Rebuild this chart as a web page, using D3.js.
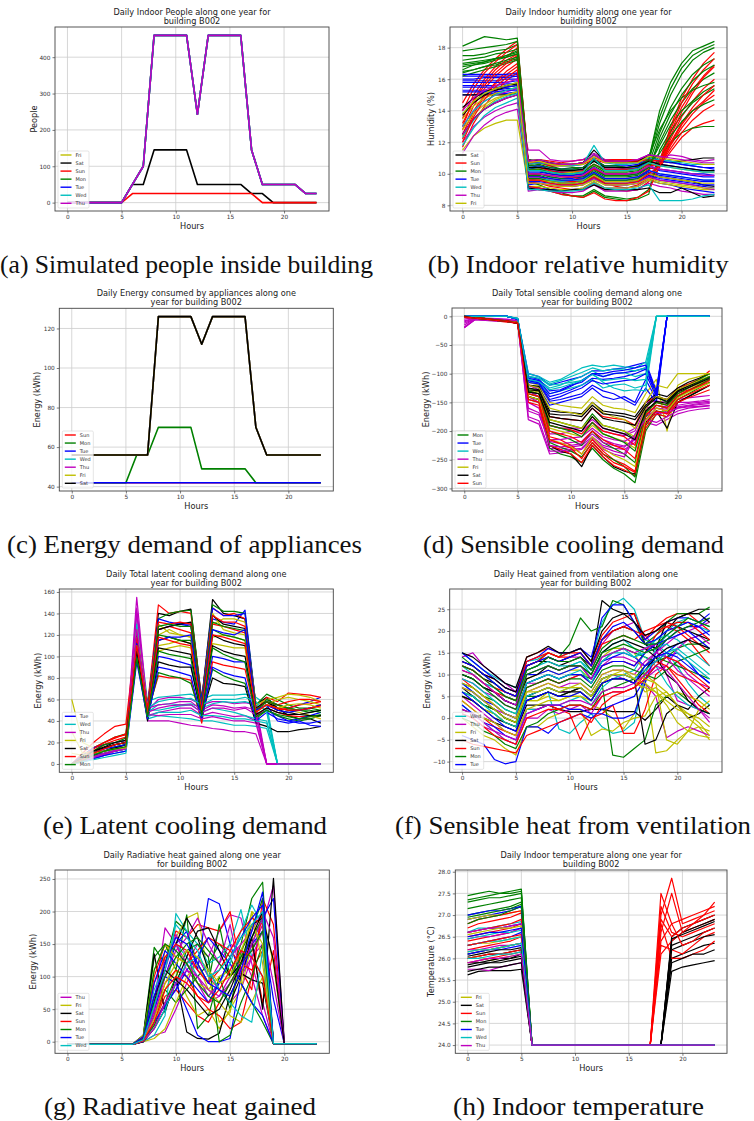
<!DOCTYPE html>
<html>
<head>
<meta charset="utf-8">
<script src="https://cdn.jsdelivr.net/npm/d3@7"></script>
<style>
  body { margin: 0; background: #fff; }
  svg { display: block; }
</style>
</head>
<body>
<svg id="fig" width="754" height="1121"></svg>
<script>
// ---------- shared axis values ----------
const hourTicks = [0, 5, 10, 15, 20];
const peopleTicks = [0, 100, 200, 300, 400];
const humidityTicks = [8, 10, 12, 14, 16, 18];
const applianceTicks = [40, 60, 80, 100, 120];
const sensibleTicks = [-300, -250, -200, -150, -100, -50, 0];
const latentTicks = [0, 20, 40, 60, 80, 100, 120, 140, 160];
const ventilationTicks = [-10, -5, 0, 5, 10, 15, 20, 25];
const radiativeTicks = [0, 50, 100, 150, 200, 250];
const temperatureTicks = [24.0, 24.5, 25.0, 25.5, 26.0, 26.5, 27.0, 27.5, 28.0];

// ---------- (a) people inside the building ----------
const peopleDays = ["Fri", "Sat", "Sun", "Mon", "Tue", "Wed", "Thu"];
const peopleWeekday = [0,0,0,0,0,0, 50,100,460,460,460,460,243,460,460,460,460,145, 50,50,50,50,25,25];
const peopleSaturday = [0,0,0,0,0,0, 50,50,145,145,145,145,50,50,50,50,50,25, 25,0,0,0,0,0];
const peopleSunday = [0,0,0,0,0,0, 25,25,25,25,25,25,25,25,25,25,25,25, 0,0,0,0,0,0];
const peopleLines = [
  ["Fri", peopleWeekday], ["Sat", peopleSaturday], ["Sun", peopleSunday],
  ["Mon", peopleWeekday], ["Tue", peopleWeekday], ["Wed", peopleWeekday], ["Thu", peopleWeekday]
];

// ---------- (b) indoor humidity ----------
const humidityDays = ["Sat", "Sun", "Mon", "Tue", "Wed", "Thu", "Fri"];
const humidityLines = [
  ["Mon",[18.1,18.4,18.7,18.6,18.5,18.6, 10.6,10.7,10.5,10.3,10.4,10.4,10.9,10.5,10.5,10.4,10.5,10.9, 14.0,15.8,17.0,17.8,18.1,18.4]],
  ["Mon",[17.5,17.5,17.6,17.8,17.9,18.2, 10.4,10.5,10.3,10.2,10.2,10.3,10.8,10.4,10.4,10.3,10.4,10.8, 13.2,15.0,16.3,17.2,17.7,18.0]],
  ["Mon",[17.2,17.3,17.4,17.6,17.7,17.9, 10.2,10.2,10.0,9.9,9.9,10.0,10.5,10.1,10.1,10.1,10.2,10.6, 12.6,14.2,15.4,16.3,16.9,17.3]],
  ["Mon",[16.8,16.9,17.0,17.2,17.4,17.6, 9.9,9.9,9.7,9.6,9.6,9.7,10.2,9.8,9.8,9.8,9.9,10.4, 12.0,13.4,14.5,15.4,16.0,16.4]],
  ["Mon",[16.4,16.6,16.8,16.9,17.1,17.3, 9.5,9.3,9.0,8.8,8.6,8.5,8.9,8.5,8.4,8.3,8.4,8.7, 11.5,12.7,13.7,14.5,15.0,15.4]],
  ["Mon",[16.2,16.4,16.6,16.8,17.0,17.2, 9.2,9.1,8.9,8.7,8.6,8.6,9.0,8.6,8.5,8.4,8.5,9.0, 11.0,12.0,12.6,12.9,13.0,13.0]],
  ["Mon",[17.0,17.1,17.2,17.3,17.5,17.7, 10.8,10.9,10.7,10.6,10.6,10.7,11.2,10.8,10.7,10.7,10.8,11.1, 12.8,14.0,14.8,15.3,15.6,15.8]],
  ["Mon",[16.6,16.9,17.1,17.3,17.5,17.8, 10.0,10.0,9.8,9.7,9.8,9.8,10.3,9.9,9.9,9.9,10.0,10.5, 11.8,13.1,14.0,14.6,15.2,15.6]],
  ["Mon",[17.8,17.9,18.0,18.1,18.2,18.4, 10.5,10.6,10.4,10.3,10.3,10.4,10.9,10.5,10.5,10.4,10.5,10.9, 13.6,15.4,16.7,17.5,17.9,18.2]],
  ["Mon",[16.9,17.0,17.1,17.3,17.4,17.6, 9.7,9.7,9.5,9.4,9.4,9.5,10.0,9.6,9.6,9.6,9.7,10.2, 12.3,13.8,15.0,15.9,16.5,16.9]],
  ["Mon",[16.5,16.6,16.8,17.0,17.2,17.4, 10.3,10.3,10.1,10.0,10.0,10.1,10.6,10.2,10.2,10.2,10.3,10.7, 11.3,12.4,13.3,14.0,14.4,14.7]],
  ["Sun",[14.5,15.7,16.6,17.3,17.9,18.4, 10.8,10.9,10.8,10.7,10.8,10.9,11.0,10.9,10.9,10.9,10.9,10.9, 10.8,13.0,14.8,16.0,17.0,17.7]],
  ["Sun",[13.5,15.0,16.0,16.8,17.4,18.0, 10.6,10.7,10.5,10.5,10.5,10.6,10.9,10.7,10.7,10.7,10.7,10.8, 10.7,12.6,14.2,15.3,16.2,16.9]],
  ["Sun",[12.8,14.3,15.4,16.2,16.8,17.3, 10.2,10.3,10.1,10.1,10.1,10.2,10.6,10.3,10.3,10.3,10.3,10.6, 10.6,12.2,13.6,14.6,15.4,16.0]],
  ["Sun",[12.2,13.8,14.9,15.7,16.3,16.8, 9.8,9.8,9.6,9.5,9.5,9.6,10.1,9.7,9.7,9.7,9.8,10.3, 10.5,11.8,12.9,13.8,14.5,15.0]],
  ["Sun",[11.7,13.2,14.3,15.2,15.9,16.4, 9.5,9.4,9.2,9.1,9.0,9.0,9.4,9.0,9.0,8.9,9.0,9.5, 10.4,11.4,12.3,12.9,13.2,13.4]],
  ["Sun",[13.0,14.7,15.8,16.6,17.2,17.6, 10.4,10.4,10.2,10.0,9.8,9.6,9.8,9.4,9.2,9.1,9.3,9.7, 10.6,12.4,13.9,15.1,16.1,16.8]],
  ["Sun",[12.5,14.0,15.0,15.8,16.5,17.0, 9.2,9.1,8.9,8.7,8.6,8.5,8.8,8.4,8.3,8.3,8.5,8.9, 10.5,11.9,13.1,14.0,14.6,15.3]],
  ["Sun",[14.0,15.4,16.4,17.1,17.7,18.2, 10.7,10.8,10.6,10.6,10.6,10.7,11.0,10.8,10.8,10.8,10.8,10.9, 10.8,12.8,14.5,15.7,16.6,17.3]],
  ["Sun",[13.2,14.6,15.6,16.4,17.0,17.5, 10.0,10.0,9.9,9.8,9.8,9.9,10.3,10.0,10.0,10.0,10.1,10.5, 10.6,12.0,13.2,14.2,15.0,15.6]],
  ["Sun",[12.0,13.6,14.7,15.5,16.1,16.6, 9.6,9.6,9.4,9.3,9.3,9.4,9.8,9.4,9.4,9.4,9.5,10.0, 10.5,11.6,12.6,13.4,14.0,14.4]],
  ["Tue",[16.2,16.2,16.2,16.2,16.2,16.3, 10.3,10.4,10.2,10.1,10.1,10.2,10.6,10.3,10.3,10.3,10.4,10.8, 10.6,10.5,10.4,10.3,10.2,10.2]],
  ["Tue",[15.9,15.9,15.9,15.9,16.0,16.0, 9.9,10.0,9.8,9.7,9.7,9.8,10.3,9.9,9.9,9.9,10.0,10.4, 10.2,10.1,10.0,9.9,9.8,9.8]],
  ["Tue",[15.6,15.6,15.6,15.6,15.7,15.7, 9.6,9.7,9.6,9.5,9.5,9.6,10.0,9.6,9.6,9.6,9.7,10.1, 9.9,9.8,9.7,9.6,9.5,9.5]],
  ["Tue",[15.3,15.3,15.3,15.3,15.4,15.4, 9.3,9.4,9.3,9.2,9.2,9.3,9.7,9.3,9.3,9.3,9.4,9.8, 9.6,9.5,9.4,9.3,9.2,9.1]],
  ["Tue",[15.0,15.0,15.1,15.1,15.1,15.2, 10.7,10.7,10.6,10.6,10.6,10.7,11.2,10.8,10.7,10.7,10.7,11.0, 10.9,10.8,10.6,10.5,10.4,10.4]],
  ["Tue",[16.0,16.0,16.1,16.1,16.1,16.2, 9.1,9.1,9.0,9.0,9.0,9.1,9.5,9.1,9.1,9.1,9.2,9.6, 9.4,9.3,9.1,9.0,8.9,8.8]],
  ["Tue",[16.3,16.3,16.3,16.3,16.3,16.4, 10.5,10.5,10.4,10.3,10.3,10.4,10.9,10.5,10.5,10.5,10.6,10.9, 10.8,10.7,10.6,10.5,10.4,10.3]],
  ["Tue",[15.8,15.8,15.8,15.8,15.8,15.9, 10.1,10.1,10.0,9.9,9.9,10.0,10.4,10.0,10.0,10.0,10.1,10.5, 10.3,10.2,10.1,10.0,10.0,9.9]],
  ["Tue",[15.5,15.5,15.5,15.5,15.5,15.6, 9.5,9.5,9.4,9.3,9.3,9.4,9.8,9.4,9.4,9.4,9.5,9.9, 9.7,9.6,9.5,9.4,9.3,9.3]],
  ["Tue",[15.2,15.2,15.2,15.2,15.3,15.3, 9.8,9.8,9.7,9.6,9.6,9.7,10.1,9.7,9.7,9.7,9.8,10.2, 10.0,9.9,9.8,9.7,9.6,9.6]],
  ["Sat",[15.0,15.0,15.0,15.0,15.0,15.1, 10.9,10.8,10.7,10.6,10.6,10.7,11.5,10.8,10.8,10.8,10.8,11.2, 10.8,10.7,10.8,10.9,11.0,11.0]],
  ["Sat",[13.7,14.5,15.0,15.3,15.5,15.6, 9.6,9.6,9.5,9.4,9.4,9.5,9.9,9.5,9.5,9.5,9.6,10.0, 9.8,9.7,9.6,9.5,9.3,9.2]],
  ["Sat",[12.5,13.5,14.1,14.5,14.8,15.0, 9.1,9.0,9.0,8.9,9.0,9.0,9.3,9.0,9.0,9.0,9.0,9.1, 8.8,8.8,9.1,8.8,8.5,8.6]],
  ["Sat",[14.2,14.8,15.2,15.4,15.6,15.7, 10.4,10.4,10.3,10.2,10.2,10.3,10.8,10.4,10.4,10.4,10.5,10.8, 10.6,10.5,10.4,10.3,10.2,10.2]],
  ["Wed",[13.8,14.6,15.1,15.4,15.6,15.8, 10.6,10.7,10.6,10.5,10.5,10.6,11.8,10.7,10.6,10.6,10.7,11.0, 10.9,10.8,10.7,10.6,10.6,10.6]],
  ["Wed",[12.3,13.4,14.1,14.6,14.9,15.1, 9.7,9.7,9.6,9.5,9.6,9.6,10.1,9.7,9.7,9.7,9.8,10.2, 10.0,9.9,9.8,9.7,9.6,9.6]],
  ["Wed",[11.8,12.9,13.7,14.2,14.5,14.8, 9.0,9.0,8.9,8.9,8.9,9.0,9.4,9.1,9.0,9.0,9.1,9.3, 8.3,8.3,8.3,8.4,8.6,8.7]],
  ["Wed",[13.0,14.0,14.6,15.0,15.3,15.5, 10.2,10.2,10.1,10.0,10.0,10.1,11.0,10.2,10.2,10.2,10.3,10.7, 10.5,10.4,10.3,10.2,10.1,10.1]],
  ["Thu",[12.0,13.0,13.6,14.0,14.3,14.5, 11.5,11.5,10.9,10.8,10.8,10.9,11.3,10.9,10.8,10.8,10.9,11.2, 11.0,11.2,11.1,10.9,10.8,10.9]],
  ["Thu",[11.3,12.4,13.1,13.6,13.9,14.1, 9.4,9.4,9.3,9.2,9.2,9.3,9.7,9.3,9.3,9.3,9.4,9.8, 9.6,9.5,9.4,9.3,9.1,9.0]],
  ["Thu",[13.0,14.0,14.6,15.0,15.2,15.4, 8.9,9.0,8.9,8.8,8.8,8.9,9.3,8.9,8.9,8.9,9.0,9.4, 9.2,9.1,8.9,8.8,8.7,8.7]],
  ["Thu",[12.5,13.5,14.1,14.5,14.8,15.0, 10.0,10.0,9.9,9.8,9.8,9.9,10.4,10.0,10.0,10.0,10.1,10.5, 10.3,10.2,10.1,10.0,9.9,9.9]],
  ["Thu",[14.0,14.8,15.3,15.6,15.8,16.0, 10.8,10.9,10.7,10.6,10.6,10.7,11.2,10.8,10.8,10.8,10.9,11.2, 11.1,11.0,10.9,10.8,10.7,10.7]],
  ["Fri",[11.5,12.4,12.9,13.2,13.4,13.4, 9.2,9.2,9.1,9.0,9.0,9.1,9.5,9.1,9.1,9.1,9.2,9.6, 9.4,9.3,9.2,9.1,9.0,9.0]],
  ["Fri",[12.4,13.5,14.2,14.7,15.0,15.2, 10.2,10.3,10.1,10.0,10.1,10.1,10.6,10.2,10.2,10.2,10.3,10.7, 10.5,10.4,10.3,10.2,10.1,10.1]],
  ["Fri",[13.5,14.3,14.8,15.1,15.3,15.5, 10.7,10.8,10.6,10.5,10.6,10.6,11.1,10.7,10.7,10.7,10.7,11.1, 11.0,10.9,10.8,10.7,10.6,10.6]],
  ["Fri",[12.8,13.8,14.4,14.8,15.0,15.2, 9.6,9.6,9.5,9.4,9.4,9.5,9.9,9.5,9.5,9.5,9.6,10.0, 9.8,9.7,9.6,9.5,9.4,9.4]],
  ["Fri",[13.8,14.6,15.1,15.4,15.6,15.8, 9.4,9.4,9.3,9.2,9.2,9.3,9.6,9.3,9.3,9.3,9.4,9.7, 9.5,9.4,9.3,9.2,9.1,9.1]]
];

// ---------- (c) appliance energy ----------
const applianceDays = ["Sun", "Mon", "Tue", "Wed", "Thu", "Fri", "Sat"];
const applianceBase = [42,42,42,42,42,42,42,42,42,42,42,42,42,42,42,42,42,42,42,42,42,42,42,42];
const applianceMonday = [42,42,42,42,42,42, 56,56,70,70,70,70,49,49,49,49,49,42, 42,42,42,42,42,42];
const applianceOffice = [56,56,56,56,56,56, 56,56,126,126,126,126,112,126,126,126,126,70, 56,56,56,56,56,56];
const applianceLines = [
  ["Sun", applianceBase], ["Mon", applianceMonday], ["Tue", applianceBase],
  ["Wed", applianceOffice], ["Thu", applianceOffice], ["Fri", applianceOffice], ["Sat", applianceOffice]
];

// ---------- (d) sensible cooling demand ----------
const sensibleDays = ["Mon", "Tue", "Wed", "Thu", "Fri", "Sat", "Sun"];
const sensibleLines = [
  ["Thu",[-20,-5,-6,-7,-8,-10, -150,-160,-230,-232,-228,-225,-210,-225,-230,-232,-220,-175, -165,-170,-160,-158,-157,-155]],
  ["Thu",[-10,-3,-4,-5,-6,-8, -130,-140,-205,-205,-200,-200,-185,-200,-205,-208,-200,-160, -155,-158,-150,-150,-148,-145]],
  ["Thu",[-15,-4,-5,-6,-7,-9, -180,-188,-240,-238,-235,-232,-215,-232,-240,-245,-210,-185, -190,-180,-170,-165,-162,-160]],
  ["Thu",[-5,-2,-3,-4,-5,-7, -120,-128,-190,-195,-195,-195,-180,-195,-200,-205,-195,-150, -148,-150,-145,-142,-140,-138]],
  ["Thu",[-18,-6,-7,-8,-9,-11, -165,-172,-218,-222,-220,-218,-200,-215,-222,-226,-215,-168, -172,-165,-158,-155,-152,-150]],
  ["Thu",[-12,-4,-5,-6,-7,-9, -140,-150,-215,-215,-212,-210,-195,-210,-215,-218,-208,-165, -160,-162,-155,-152,-150,-148]],
  ["Thu",[-8,-3,-4,-5,-6,-8, -160,-168,-225,-228,-225,-222,-205,-220,-225,-228,-212,-170, -168,-168,-160,-156,-154,-152]],
  ["Thu",[-20,-6,-7,-8,-9,-11, -175,-182,-235,-235,-232,-230,-212,-228,-235,-240,-205,-180, -185,-175,-165,-160,-158,-156]],
  ["Sun",[0,-2,-4,-6,-8,-10, -120,-125,-175,-178,-180,-182,-160,-175,-178,-180,-190,-150, -140,-145,-125,-118,-110,-95]],
  ["Sun",[-2,-4,-6,-8,-10,-12, -140,-145,-210,-215,-225,-240,-215,-235,-250,-258,-270,-180, -160,-165,-140,-130,-122,-115]],
  ["Sun",[0,-3,-5,-7,-9,-11, -130,-135,-190,-195,-198,-205,-185,-200,-205,-210,-225,-165, -150,-155,-135,-128,-120,-110]],
  ["Sun",[-1,-3,-5,-7,-9,-13, -150,-155,-225,-232,-240,-255,-225,-245,-260,-268,-278,-195, -170,-175,-150,-142,-135,-128]],
  ["Sun",[0,-2,-4,-6,-8,-10, -135,-140,-200,-205,-210,-220,-200,-215,-225,-232,-248,-172, -155,-160,-138,-130,-122,-112]],
  ["Sun",[-1,-3,-5,-7,-9,-12, -145,-150,-215,-222,-230,-248,-220,-240,-255,-262,-272,-188, -165,-170,-145,-136,-128,-120]],
  ["Mon",[0,-3,-5,-7,-9,-12, -145,-150,-230,-240,-245,-255,-230,-250,-265,-275,-290,-200, -170,-175,-150,-140,-130,-120]],
  ["Mon",[0,-2,-4,-6,-8,-10, -125,-130,-180,-185,-190,-195,-170,-190,-195,-200,-215,-160, -140,-150,-130,-120,-110,-100]],
  ["Mon",[0,-3,-5,-7,-9,-11, -135,-140,-200,-208,-215,-225,-200,-220,-230,-240,-255,-175, -155,-160,-140,-130,-120,-110]],
  ["Mon",[0,-2,-4,-6,-8,-11, -140,-145,-220,-228,-235,-245,-220,-240,-250,-262,-280,-190, -165,-168,-145,-135,-125,-115]],
  ["Mon",[0,-3,-5,-7,-9,-11, -130,-135,-190,-195,-200,-210,-185,-205,-212,-220,-235,-168, -150,-155,-135,-125,-115,-105]],
  ["Sat",[0,-3,-5,-7,-9,-12, -120,-122,-165,-167,-168,-170,-150,-165,-168,-170,-175,-150, -135,-140,-125,-115,-108,-100]],
  ["Sat",[0,-2,-4,-6,-8,-10, -140,-145,-225,-235,-240,-262,-225,-245,-262,-270,-275,-185, -165,-195,-150,-140,-130,-120]],
  ["Sat",[0,-3,-5,-7,-9,-12, -125,-128,-170,-172,-172,-175,-155,-170,-172,-175,-180,-155, -140,-145,-128,-120,-112,-105]],
  ["Sat",[0,-2,-4,-6,-8,-11, -128,-130,-175,-178,-180,-182,-160,-178,-182,-185,-190,-158, -142,-148,-130,-122,-114,-106]],
  ["Sat",[0,-3,-5,-7,-9,-12, -132,-135,-185,-190,-195,-200,-175,-195,-200,-205,-215,-165, -148,-152,-132,-124,-116,-108]],
  ["Fri",[0,-2,-4,-6,-8,-10, -115,-120,-150,-155,-158,-160,-140,-155,-160,-162,-168,-135, -110,-200,-120,-110,-105,-100]],
  ["Fri",[0,-3,-5,-7,-9,-11, -135,-140,-195,-200,-205,-210,-190,-205,-212,-218,-230,-170, -150,-155,-135,-125,-118,-110]],
  ["Fri",[0,-2,-4,-6,-8,-10, -120,-125,-160,-165,-168,-172,-150,-168,-175,-180,-195,-150, -120,-125,-100,-100,-100,-100]],
  ["Fri",[0,-2,-4,-6,-8,-10, -128,-132,-180,-185,-190,-195,-175,-190,-195,-200,-210,-160, -140,-145,-128,-120,-112,-104]],
  ["Fri",[0,-3,-5,-7,-9,-11, -140,-145,-215,-220,-228,-240,-210,-230,-242,-250,-262,-182, -160,-165,-142,-132,-124,-116]],
  ["Tue",[0,0,0,0,0,-5, -100,-105,-120,-115,-110,-105,-95,-95,-92,-90,-85,-80, -130,0,0,0,0,0]],
  ["Tue",[0,0,0,0,0,-5, -110,-115,-140,-135,-128,-120,-108,-110,-108,-105,-100,-92, -138,0,0,0,0,0]],
  ["Tue",[0,0,0,0,0,-6, -120,-125,-155,-150,-145,-140,-125,-140,-145,-140,-150,-110, -145,0,0,0,0,0]],
  ["Tue",[0,0,0,0,0,-5, -105,-110,-130,-128,-120,-115,-100,-105,-100,-98,-95,-90, -135,0,0,0,0,0]],
  ["Tue",[0,0,0,0,0,-4, -115,-118,-148,-145,-140,-135,-120,-130,-135,-145,-155,-125, -150,0,0,0,0,0]],
  ["Tue",[0,0,0,0,0,-5, -112,-116,-145,-140,-132,-125,-112,-118,-115,-112,-110,-100, -140,0,0,0,0,0]],
  ["Tue",[0,0,0,0,0,-5, -108,-112,-135,-130,-122,-112,-100,-100,-96,-94,-90,-85, -132,0,0,0,0,0]],
  ["Wed",[0,0,0,0,0,-3, -100,-105,-115,-110,-100,-90,-85,-88,-85,-88,-90,-80, 0,0,0,0,0,0]],
  ["Wed",[0,0,0,0,0,-4, -108,-112,-125,-120,-112,-105,-95,-105,-100,-98,-105,-100, 0,0,0,0,0,0]],
  ["Wed",[0,0,0,0,0,-5, -112,-118,-135,-130,-125,-120,-110,-125,-120,-118,-125,-120, 0,0,0,0,0,0]],
  ["Wed",[0,0,0,0,0,-4, -105,-108,-120,-118,-115,-112,-100,-115,-125,-130,-128,-130, 0,0,0,0,0,0]],
  ["Wed",[0,0,0,0,0,-4, -104,-108,-118,-112,-105,-98,-90,-95,-92,-92,-95,-90, 0,0,0,0,0,0]],
  ["Wed",[0,0,0,0,0,-4, -110,-114,-128,-124,-118,-112,-102,-112,-110,-108,-112,-110, 0,0,0,0,0,0]]
];

// ---------- (e) latent cooling demand ----------
const latentDays = ["Tue", "Wed", "Thu", "Fri", "Sat", "Sun", "Mon"];
const latentLines = [
  ["Tue",[0,5,12,15,18,20, 120,50,125,128,130,130,55,135,132,130,143,55, 60,55,52,55,58,62]],
  ["Tue",[0,3,8,12,14,15, 100,45,100,98,95,92,45,100,98,95,95,45, 50,45,40,38,38,40]],
  ["Tue",[0,8,15,18,20,22, 110,55,135,132,130,128,60,145,138,138,140,50, 55,40,38,40,36,35]],
  ["Tue",[0,2,5,8,10,12, 95,42,90,88,85,82,42,90,85,82,80,40, 48,42,40,42,45,48]],
  ["Tue",[0,4,10,14,16,18, 112,48,115,118,118,120,52,125,122,120,125,50, 55,50,48,50,52,55]],
  ["Fri",[60,20,15,18,20,22, 115,48,120,125,120,118,50,130,135,135,132,55, 60,62,65,64,62,58]],
  ["Fri",[30,10,12,15,16,18, 105,45,110,112,115,112,48,118,120,118,115,50, 58,55,50,48,45,42]],
  ["Fri",[0,5,10,12,14,16, 125,52,130,122,120,118,55,140,125,122,120,52, 55,60,62,60,58,55]],
  ["Fri",[10,8,10,12,14,15, 110,46,105,108,110,108,48,112,110,108,108,48, 55,52,55,56,55,52]],
  ["Sat",[0,5,10,15,18,20, 118,52,140,138,142,144,60,153,140,138,135,55, 62,52,45,42,42,38]],
  ["Sat",[0,3,8,10,12,14, 100,40,95,92,90,90,45,80,75,74,72,38, 35,30,30,32,33,35]],
  ["Sat",[0,6,12,15,18,20, 110,48,115,118,115,112,50,120,115,112,110,50, 58,52,50,50,52,55]],
  ["Sat",[0,4,10,12,15,18, 120,50,125,128,130,132,55,138,130,128,126,52, 58,50,48,46,45,45]],
  ["Sat",[0,5,12,16,20,22, 105,46,108,106,104,102,48,110,105,102,100,46, 52,48,46,46,48,50]],
  ["Sun",[0,10,20,28,35,37, 125,55,148,140,142,140,60,145,138,140,135,50, 62,58,66,65,64,62]],
  ["Sun",[0,8,15,20,25,27, 105,48,82,80,80,78,38,95,92,90,88,45, 52,48,45,44,44,45]],
  ["Sun",[0,5,12,18,22,25, 115,50,125,128,125,122,52,130,128,125,122,50, 55,50,52,55,56,58]],
  ["Sun",[0,6,14,20,24,28, 118,52,132,130,132,130,56,138,132,132,128,50, 58,55,58,60,60,58]],
  ["Sun",[0,4,10,14,18,20, 110,48,118,115,112,110,50,120,118,115,112,48, 55,52,50,50,52,54]],
  ["Mon",[0,8,15,20,25,28, 112,50,135,140,142,143,58,148,142,142,140,55, 65,60,55,52,52,50]],
  ["Mon",[0,5,10,15,18,20, 100,45,85,82,80,75,42,88,82,78,75,42, 50,45,42,40,42,45]],
  ["Mon",[0,4,10,12,16,18, 118,50,120,118,115,115,52,125,120,118,115,48, 60,55,52,50,48,50]],
  ["Mon",[0,6,12,18,20,24, 108,48,128,130,128,128,55,132,128,126,124,50, 58,55,52,50,50,48]],
  ["Mon",[0,3,8,12,14,16, 98,44,105,102,100,98,45,108,102,98,95,44, 50,46,44,42,44,46]],
  ["Wed",[0,5,10,12,15,18, 140,58,62,63,64,65,60,64,64,64,65,62, 55,0,0,0,0,0]],
  ["Wed",[0,3,6,8,10,12, 118,48,55,56,55,56,52,56,58,57,58,55, 50,0,0,0,0,0]],
  ["Wed",[0,4,8,10,12,15, 110,42,45,44,43,42,40,40,38,36,36,35, 33,0,0,0,0,0]],
  ["Wed",[0,2,5,8,12,14, 125,50,50,52,54,55,48,52,50,48,45,42, 40,0,0,0,0,0]],
  ["Wed",[0,3,7,10,13,16, 130,52,58,60,60,61,55,60,60,60,62,58, 48,0,0,0,0,0]],
  ["Wed",[0,2,4,6,8,10, 105,44,48,48,48,50,45,45,44,42,42,40, 38,0,0,0,0,0]],
  ["Thu",[0,5,8,12,15,18, 155,50,60,62,62,60,55,58,58,56,57,55, 0,0,0,0,0,0]],
  ["Thu",[0,3,6,9,12,14, 130,45,48,50,52,52,45,48,46,44,45,40, 0,0,0,0,0,0]],
  ["Thu",[0,4,8,10,12,15, 120,40,40,40,38,36,35,33,32,30,30,28, 0,0,0,0,0,0]],
  ["Thu",[0,2,5,8,12,16, 140,52,55,56,58,58,50,55,54,52,53,50, 0,0,0,0,0,0]],
  ["Thu",[0,4,7,10,13,15, 145,48,52,54,55,55,48,52,52,50,52,46, 0,0,0,0,0,0]],
  ["Thu",[0,3,6,9,12,14, 125,46,45,46,46,46,42,44,42,40,40,38, 0,0,0,0,0,0]]
];

// ---------- (f) heat gained from ventilation ----------
const ventilationDays = ["Wed", "Thu", "Fri", "Sat", "Sun", "Mon", "Tue"];
const ventilationLines = [
  ["Wed",[15,13,11,9.5,8,7, 13,13.5,15,14,15,16,13,22,26,27.5,25,18, 17,15,12,8,5,3]],
  ["Wed",[8,6,4,2,0,-1, 4,5,6,-2.5,-3.5,-1,1,-2,-3.5,-3,-1,10, 16,19,21,22,21,20]],
  ["Wed",[3,1,-1,-3,-5,-6, 2,2,3,3,4,5,3,7,9,10,11,15, 18,20,22,23,22,21]],
  ["Wed",[11,10,8,7,5,4, 10,11,12,11,12,13,10,15,17,18,16,14, 12,8,5,3,2,1]],
  ["Wed",[12,10,8,7,5,4, 11,12,13,12,12,13,11,14,15,15,14,16, 18,19,18,16,14,12]],
  ["Wed",[9,8,6,4,2,1, 8,9,10,9,10,11,8,13,15,16,14,15, 16,17,15,13,11,9]],
  ["Wed",[6,5,3,1,-1,-2, 5,6,7,6,7,7,5,9,10,10,9,11, 13,15,16,14,12,10]],
  ["Thu",[14,15,12,10,8,6, 12,13,14,13,14,14,11,17,20,21,22,19, 16,10,4,3,2,0]],
  ["Thu",[5,3,1,-1,-3,-4, 5,6,7,6,6,7,5,9,10,9,8,8, 5,-4.5,-3,-2,-3,-4]],
  ["Thu",[9,8,6,5,3,2, 8,8,9,8,9,10,8,12,14,14,13,12, 15,14,13,10,8,7]],
  ["Thu",[1,0,-2,-3,-5,-6, 0,0,2,1,2,3,1,5,6,6,7,9, 11,12,16,18,19,17]],
  ["Thu",[7,6,4,2,1,0, 6,7,8,7,8,8,6,10,11,11,10,13, 15,17,19,20,21,22]],
  ["Thu",[11,10,8,6,4,3, 10,11,12,11,12,12,9,14,15,16,15,16, 17,14,11,9,7,5]],
  ["Thu",[2,1,-1,-3,-4,-5, 1,2,3,3,4,4,3,6,7,7,8,10, 12,11,8,5,2,-1]],
  ["Fri",[6,5,3,2,0,-1, 4,4,5,4,5,5,3,2,0,-2.5,1,9, -8,-7.5,-5,-3,-2,-5]],
  ["Fri",[0,-2,-4,-5,-7,-8.5, -2,-2,0,1,2,2,-4,-2.5,-3,-1,0,0.5, 5,6,3,1,-1,-4]],
  ["Fri",[10,9,7,6,4,3, 9,10,11,10,11,11,9,14,16,16,15,10, 8,-5,-6,-3,2,4]],
  ["Fri",[4,2,0,-1,-3,-4, 2,3,4,4,5,5,4,8,10,11,9,6, 7,5,6,5,4,2]],
  ["Fri",[5,4,2,1,-1,-2, 4,4,6,5,5,6,4,8,9,9,8,7, 6,3,-1,-3,-4,-4.5]],
  ["Fri",[8,7,5,3,1,0, 6,7,8,7,7,8,6,10,11,11,10,9, 8,6,3,0,-2,-3]],
  ["Fri",[7,6,4,2,0,-1, 6,6,7,6,7,7,5,9,10,10,9,8, 6,4,2,1,0,-2]],
  ["Sat",[12,11,9,8,6,5, 11,12,14,13,14,15,12,27,25,24,24,17, 15,20,23,24,25,25]],
  ["Sat",[2,1,0,-1,-2,-3, 3,3,3,2,1.5,1.5,2,2,1.5,1.5,1.5,-0.5, 2,5,3,0,1,3]],
  ["Sat",[7,5,3,2,0,-1, 5,6,7,6,6,7,5,9,10,10,9,-6, -5,1,3,2,5,7]],
  ["Sat",[13,12,10,9,7,6, 12,13,13,12,13,14,12,18,20,21,20,17, 16,22,21,20,19,18]],
  ["Sat",[10,9,7,6,4,3, 9,10,12,11,12,12,10,15,17,18,17,16, 14,10,8,4,2,1]],
  ["Sat",[5,4,2,0,-1,-2, 4,5,6,5,6,6,4,8,9,9,8,11, 14,16,17,18,17,16]],
  ["Sat",[15,14,12,10,8,7, 14,15,16.5,15,15,16,13,20,23,24,22,19, 20,22,23,24,24,22]],
  ["Sun",[13,12,10,9,7,6, 14,15,16,15,15,16,13,19,22,23,24,18, 21,23,24,24,22,20]],
  ["Sun",[4,2,0,-2,-3,-4, 2,2,3,2,1,-5,0,1,3,-3.5,-3.5,2, 10,12,9,6,3,1]],
  ["Sun",[9,7,5,3,1,0, 7,8,9,8,9,10,8,12,13,13,12,15, 19,21,20,18,15,12]],
  ["Sun",[-5,-6,-6.5,-7,-7.5,-8, -4,-3,-2,-1,0,1,-1,3,5,6,7,10, 13,12,10,9,8,6]],
  ["Sun",[11,10,8,6,5,4, 12,13,15,14,14,15,12,17,18,19,18,20, 21,22,21,19,17,15]],
  ["Sun",[12,11,9,7,6,5, 13,14,15,14,15,15,12,18,20,21,20,19, 20,21,22,22,20,18]],
  ["Sun",[1,0,-2,-4,-5,-6, 0,1,2,2,3,3,2,5,6,6,7,9, 12,14,13,11,9,7]],
  ["Mon",[14,12,10,8,6,5, 12,13,15,14,17,23,20,21,27,26,22,17, 19,22,24,24,24,25.5]],
  ["Mon",[5,4,2,1,-1,-2, 5,5,6,5,6,7,5,8,-8.5,-9,-7,-5, 3,5,6,4,2,1]],
  ["Mon",[8,7,5,4,2,1, 8,9,10,9,10,10,9,13,15,16,15,14, 13,14,16,17,17,18]],
  ["Mon",[0,-1,-3,-4,-6,-7, -2,-1,1,2,3,3,2,6,7,8,9,12, 14,13,12,11,10,9]],
  ["Mon",[6,5,3,2,0,-1, 7,8,9,8,9,9,7,11,12,12,11,10, 9,11,13,14,15,16]],
  ["Mon",[10,9,7,5,3,2, 10,11,12,11,12,12,10,15,16,17,16,15, 16,18,20,21,22,23]],
  ["Mon",[12,11,9,7,5,4, 11,12,14,13,13,14,11,16,18,19,18,17, 17,19,21,23,22,21]],
  ["Tue",[15,13,11,9,7,6, 13,14,16,15,15,16,14,23,26,26,22,18, 20,22,23,23,22,24]],
  ["Tue",[-4,-5,-6,-9.5,-10.5,-10, -2,-2,-3.5,-1,0,1,0,2,3,4,5,9, 12,14,15,13,10,8]],
  ["Tue",[10,9,7,6,4,3, 10,10,11,10,11,12,9,13,14,15,14,12, 13,15,17,18,19,20]],
  ["Tue",[3,1,-1,-2,-4,-5, 1,2,3,3,2,2,1,1,0,0,1,8, 15,18,20,21,21,23]],
  ["Tue",[8,6,4,3,1,0, 8,9,10,9,10,10,8,12,13,13,12,15, 17,18,19,20,18,16]],
  ["Tue",[13,12,10,8,6,5, 12,13,14,13,14,15,12,18,21,22,20,17, 18,20,21,22,21,19]],
  ["Tue",[6,4,2,0,-2,-3, 4,5,6,5,5,6,4,8,9,9,8,12, 14,15,14,12,10,8]]
];

// ---------- (g) radiative heat gained ----------
const radiativeDays = ["Thu", "Fri", "Sat", "Sun", "Mon", "Tue", "Wed"];
const radiativeLines = [
  ["Thu",[-4,-4,-4,-4,-4,-4,-4, 5,60,175,150,110,90,60,70,100,120,140,180,240, -3,-3,-3,-3]],
  ["Thu",[-4,-4,-4,-4,-4,-4,-4, 2,30,60,80,120,150,130,170,195,190,120,60,-3, -3,-3,-3,-3]],
  ["Thu",[-4,-4,-4,-4,-4,-4,-4, 0,10,15,50,90,130,100,80,60,80,130,150,-3, -3,-3,-3,-3]],
  ["Thu",[-4,-4,-4,-4,-4,-4,-4, 8,45,110,165,130,110,90,120,150,140,100,40,-3, -3,-3,-3,-3]],
  ["Thu",[-4,-4,-4,-4,-4,-4,-4, 2,40,100,140,160,190,150,120,180,100,130,170,90, -3,-3,-3,-3]],
  ["Thu",[-4,-4,-4,-4,-4,-4,-4, 3,50,130,150,120,100,70,90,130,150,170,200,160, -3,-3,-3,-3]],
  ["Thu",[-4,-4,-4,-4,-4,-4,-4, 1,20,60,90,110,100,80,70,90,110,150,190,-3, -3,-3,-3,-3]],
  ["Fri",[-4,-4,-4,-4,-4,-4,-4, 5,50,140,160,190,198,100,30,45,130,200,185,-3, -3,-3,-3,-3]],
  ["Fri",[-4,-4,-4,-4,-4,-4,-4, 2,25,80,110,70,40,50,20,50,80,150,195,120, -3,-3,-3,-3]],
  ["Fri",[-4,-4,-4,-4,-4,-4,-4, 0,5,20,60,100,120,80,60,40,30,60,100,-3, -3,-3,-3,-3]],
  ["Fri",[-4,-4,-4,-4,-4,-4,-4, 10,110,150,130,120,90,80,100,110,90,200,120,-3, -3,-3,-3,-3]],
  ["Fri",[-4,-4,-4,-4,-4,-4,-4, 2,35,90,120,140,130,110,90,100,140,180,150,-3, -3,-3,-3,-3]],
  ["Sat",[-4,-4,-4,-4,-4,-4,-4, 10,135,45,100,15,5,4,13,72,105,95,90,-3, -3,-3,-3,-3]],
  ["Sat",[-4,-4,-4,-4,-4,-4,-4, 5,60,120,150,190,160,110,80,60,100,160,50,251, -3,-3,-3,-3]],
  ["Sat",[-4,-4,-4,-4,-4,-4,-4, 0,20,50,90,130,170,175,140,100,120,180,190,125, -3,-3,-3,-3]],
  ["Sat",[-4,-4,-4,-4,-4,-4,-4, 4,70,110,95,80,60,40,50,80,120,160,200,-3, -3,-3,-3,-3]],
  ["Sun",[-4,-4,-4,-4,-4,-4,-4, 3,50,120,170,160,180,175,170,200,110,80,220,180, -3,-3,-3,-3]],
  ["Sun",[-4,-4,-4,-4,-4,-4,-4, 0,30,70,80,60,40,30,60,90,120,150,60,140, -3,-3,-3,-3]],
  ["Sun",[-4,-4,-4,-4,-4,-4,-4, 2,40,90,110,100,70,50,40,20,30,100,200,-3, -3,-3,-3,-3]],
  ["Sun",[-4,-4,-4,-4,-4,-4,-4, 5,100,150,130,120,140,160,150,140,120,110,140,-3, -3,-3,-3,-3]],
  ["Sun",[-4,-4,-4,-4,-4,-4,-4, 6,90,130,150,140,110,90,110,140,170,190,180,-3, -3,-3,-3,-3]],
  ["Sun",[-4,-4,-4,-4,-4,-4,-4, 2,30,80,100,90,70,60,80,110,140,130,100,-3, -3,-3,-3,-3]],
  ["Mon",[-4,-4,-4,-4,-4,-4,-4, 10,145,120,185,170,120,90,180,100,150,220,245,-3, -3,-3,-3,-3]],
  ["Mon",[-4,-4,-4,-4,-4,-4,-4, 5,130,150,110,195,20,40,100,50,140,170,220,-3, -3,-3,-3,-3]],
  ["Mon",[-4,-4,-4,-4,-4,-4,-4, 0,40,80,60,80,100,120,150,130,90,60,30,-3, -3,-3,-3,-3]],
  ["Mon",[-4,-4,-4,-4,-4,-4,-4, 2,25,60,100,140,150,130,0,10,60,100,150,-3, -3,-3,-3,-3]],
  ["Mon",[-4,-4,-4,-4,-4,-4,-4, 3,60,100,130,150,160,140,120,100,130,160,190,-3, -3,-3,-3,-3]],
  ["Mon",[-4,-4,-4,-4,-4,-4,-4, 5,110,150,140,120,90,70,60,90,120,140,170,-3, -3,-3,-3,-3]],
  ["Tue",[-4,-4,-4,-4,-4,-4,-4, 5,60,100,150,170,110,220,212,150,100,150,190,220, -3,-3,-3,-3]],
  ["Tue",[-4,-4,-4,-4,-4,-4,-4, 3,50,100,90,50,10,0,0,5,100,150,170,65, -3,-3,-3,-3]],
  ["Tue",[-4,-4,-4,-4,-4,-4,-4, 0,30,55,80,110,130,160,140,120,90,60,40,-3, -3,-3,-3,-3]],
  ["Tue",[-4,-4,-4,-4,-4,-4,-4, 8,90,140,120,100,80,60,90,130,160,190,210,-3, -3,-3,-3,-3]],
  ["Tue",[-4,-4,-4,-4,-4,-4,-4, 4,70,120,160,150,120,90,80,70,110,170,230,-3, -3,-3,-3,-3]],
  ["Wed",[-4,-4,-4,-4,-4,-4,-4, 0,10,40,197,170,150,120,130,150,203,130,100,-3, -3,-3,-3,-3]],
  ["Wed",[-4,-4,-4,-4,-4,-4,-4, 5,80,120,150,130,100,70,90,120,170,210,180,-3, -3,-3,-3,-3]],
  ["Wed",[-4,-4,-4,-4,-4,-4,-4, 2,20,50,90,120,130,110,80,60,40,30,140,-3, -3,-3,-3,-3]],
  ["Wed",[-4,-4,-4,-4,-4,-4,-4, 3,55,110,180,160,140,100,110,130,160,180,200,-3, -3,-3,-3,-3]]
];

// ---------- (h) indoor temperature ----------
const temperatureDays = ["Fri", "Sat", "Sun", "Mon", "Tue", "Wed", "Thu"];
const temperatureLines = [
  ["Fri",[26.0,26.05,25.95,26.0,26.05,26.1, 24,24,24,24,24,24,24,24,24,24,24,24, 24,24,24,24,24,24]],
  ["Fri",[26.3,26.35,26.35,26.4,26.45,26.5, 24,24,24,24,24,24,24,24,24,24,24,24, 24,24,24,24,24,24]],
  ["Fri",[26.9,26.95,27.0,27.0,27.05,27.1, 24,24,24,24,24,24,24,24,24,24,24,24, 24,24,24,24,24,24]],
  ["Fri",[26.15,26.2,26.2,26.25,26.3,26.35, 24,24,24,24,24,24,24,24,24,24,24,24, 24,24,24,24,24,24]],
  ["Fri",[26.55,26.6,26.65,26.7,26.7,26.75, 24,24,24,24,24,24,24,24,24,24,24,24, 24,24,24,24,24,24]],
  ["Sat",[25.62,25.7,25.72,25.72,25.72,25.75, 24,24,24,24,24,24,24,24,24,24,24,24, 24,25.7,25.8,25.85,25.9,25.95]],
  ["Sat",[25.8,25.85,25.9,25.9,25.95,26.0, 24,24,24,24,24,24,24,24,24,24,24,24, 24,26.0,26.1,26.2,26.3,26.35]],
  ["Sat",[26.0,26.05,26.1,26.1,26.15,26.2, 24,24,24,24,24,24,24,24,24,24,24,24, 24,26.3,26.4,26.5,26.6,26.7]],
  ["Sat",[25.9,25.9,25.95,26.0,26.0,26.1, 24,24,24,24,24,24,24,24,24,24,24,24, 24,26.4,26.6,26.7,26.8,26.9]],
  ["Sat",[26.1,26.15,26.2,26.25,26.3,26.35, 24,24,24,24,24,24,24,24,24,24,24,24, 24,26.5,26.7,26.8,26.9,27.0]],
  ["Sat",[25.7,25.75,25.8,25.8,25.85,25.9, 24,24,24,24,24,24,24,24,24,24,24,24, 24,25.9,26.0,26.1,26.1,26.2]],
  ["Sat",[25.85,25.9,25.9,25.95,26.0,26.05, 24,24,24,24,24,24,24,24,24,24,24,24, 24,26.2,26.3,26.4,26.5,26.55]],
  ["Sat",[26.05,26.1,26.15,26.2,26.2,26.25, 24,24,24,24,24,24,24,24,24,24,24,24, 24,26.45,26.55,26.65,26.75,26.85]],
  ["Sun",[26.7,26.8,26.85,26.9,26.95,27.05, 24,24,24,24,24,24,24,24,24,24,24,24, 27.5,26.8,26.9,27.0,27.1,27.2]],
  ["Sun",[26.5,26.55,26.6,26.65,26.7,26.8, 24,24,24,24,24,24,24,24,24,24,24,24, 27.0,27.85,26.8,26.9,27.0,27.1]],
  ["Sun",[26.4,26.45,26.5,26.55,26.6,26.7, 24,24,24,24,24,24,24,24,24,24,24,24, 26.6,27.5,26.6,26.7,26.8,26.9]],
  ["Sun",[26.2,26.25,26.3,26.35,26.4,26.5, 24,24,24,24,24,24,24,24,24,24,24,24, 26.3,26.2,26.1,26.3,26.5,26.6]],
  ["Sun",[26.0,26.05,26.1,26.1,26.15,26.2, 24,24,24,24,24,24,24,24,24,24,24,24, 27.2,26.6,26.5,26.6,26.7,26.8]],
  ["Sun",[25.9,25.95,26.0,26.05,26.1,26.15, 24,24,24,24,24,24,24,24,24,24,24,24, 26.8,26.0,26.0,26.1,26.2,26.4]],
  ["Sun",[26.8,26.9,26.95,27.0,27.05,27.1, 24,24,24,24,24,24,24,24,24,24,24,24, 26.1,26.4,26.6,26.8,27.0,27.3]],
  ["Sun",[26.6,26.65,26.7,26.75,26.8,26.9, 24,24,24,24,24,24,24,24,24,24,24,24, 26.9,26.5,26.7,26.8,26.9,27.0]],
  ["Sun",[26.3,26.35,26.4,26.45,26.5,26.55, 24,24,24,24,24,24,24,24,24,24,24,24, 26.4,26.8,26.3,26.4,26.6,26.7]],
  ["Mon",[27.45,27.5,27.55,27.5,27.55,27.6, 24,24,24,24,24,24,24,24,24,24,24,24, 24,24,24,24,24,24]],
  ["Mon",[27.3,27.35,27.4,27.4,27.45,27.5, 24,24,24,24,24,24,24,24,24,24,24,24, 24,24,24,24,24,24]],
  ["Mon",[27.15,27.2,27.25,27.3,27.35,27.4, 24,24,24,24,24,24,24,24,24,24,24,24, 24,24,24,24,24,24]],
  ["Mon",[27.0,27.05,27.1,27.15,27.2,27.3, 24,24,24,24,24,24,24,24,24,24,24,24, 24,24,24,24,24,24]],
  ["Mon",[26.8,26.9,26.95,27.0,27.1,27.2, 24,24,24,24,24,24,24,24,24,24,24,24, 24,24,24,24,24,24]],
  ["Mon",[27.35,27.4,27.45,27.5,27.5,27.55, 24,24,24,24,24,24,24,24,24,24,24,24, 24,24,24,24,24,24]],
  ["Mon",[26.95,27.0,27.05,27.1,27.15,27.25, 24,24,24,24,24,24,24,24,24,24,24,24, 24,24,24,24,24,24]],
  ["Tue",[26.9,26.95,27.0,27.05,27.1,27.2, 24,24,24,24,24,24,24,24,24,24,24,24, 24,24,24,24,24,24]],
  ["Tue",[26.6,26.65,26.7,26.7,26.75,26.8, 24,24,24,24,24,24,24,24,24,24,24,24, 24,24,24,24,24,24]],
  ["Tue",[26.3,26.35,26.4,26.45,26.5,26.6, 24,24,24,24,24,24,24,24,24,24,24,24, 24,24,24,24,24,24]],
  ["Tue",[26.1,26.15,26.2,26.2,26.25,26.3, 24,24,24,24,24,24,24,24,24,24,24,24, 24,24,24,24,24,24]],
  ["Tue",[27.0,27.05,27.1,27.1,27.15,27.2, 24,24,24,24,24,24,24,24,24,24,24,24, 24,24,24,24,24,24]],
  ["Tue",[26.5,26.55,26.6,26.6,26.65,26.7, 24,24,24,24,24,24,24,24,24,24,24,24, 24,24,24,24,24,24]],
  ["Wed",[26.6,26.7,26.7,26.75,26.8,26.85, 24,24,24,24,24,24,24,24,24,24,24,24, 24,24,24,24,24,24]],
  ["Wed",[26.3,26.35,26.4,26.4,26.45,26.5, 24,24,24,24,24,24,24,24,24,24,24,24, 24,24,24,24,24,24]],
  ["Wed",[26.0,26.0,26.05,26.1,26.1,26.15, 24,24,24,24,24,24,24,24,24,24,24,24, 24,24,24,24,24,24]],
  ["Wed",[26.45,26.5,26.55,26.6,26.6,26.65, 24,24,24,24,24,24,24,24,24,24,24,24, 24,24,24,24,24,24]],
  ["Wed",[26.15,26.2,26.2,26.25,26.3,26.35, 24,24,24,24,24,24,24,24,24,24,24,24, 24,24,24,24,24,24]],
  ["Thu",[25.75,25.75,25.72,25.8,25.85,25.9, 24,24,24,24,24,24,24,24,24,24,24,24, 24,24,24,24,24,24]],
  ["Thu",[26.45,26.5,26.5,26.55,26.6,26.7, 24,24,24,24,24,24,24,24,24,24,24,24, 24,24,24,24,24,24]],
  ["Thu",[26.2,26.2,26.25,26.3,26.3,26.35, 24,24,24,24,24,24,24,24,24,24,24,24, 24,24,24,24,24,24]],
  ["Thu",[26.6,26.65,26.7,26.7,26.75,26.8, 24,24,24,24,24,24,24,24,24,24,24,24, 24,24,24,24,24,24]],
  ["Thu",[25.9,25.95,26.0,26.0,26.05,26.1, 24,24,24,24,24,24,24,24,24,24,24,24, 24,24,24,24,24,24]]
];

// ---------- styling ----------
const dayColor = {
  Mon: "#008000", Tue: "#0000ff", Wed: "#00bfbf", Thu: "#bf00bf",
  Fri: "#bfbf00", Sat: "#000000", Sun: "#ff0000"
};
const sansFont = "'DejaVu Sans', Verdana, sans-serif";
const serifFont = "'Liberation Serif', 'DejaVu Serif', serif";

const panels = [
  { key: "a", box: [55, 27, 329, 211], yDomain: [-23, 483], ticks: peopleTicks, fmt: d3.format("d"),
    ylabel: "People", ylabOff: 18, lineWidth: 1.6,
    title: ["Daily Indoor People along one year for", "building B002"],
    caption: "(a) Simulated people inside building", capX: [0, 373],
    days: peopleDays, lines: peopleLines },
  { key: "b", box: [450, 27, 727, 211], yDomain: [7.64, 19.31], ticks: humidityTicks, fmt: d3.format("d"),
    ylabel: "Humidity (%)", ylabOff: 15.7, lineWidth: 1.2,
    title: ["Daily Indoor humidity along one year for", "building B002"],
    caption: "(b) Indoor relative humidity", capX: [427.7, 728.7],
    days: humidityDays, lines: humidityLines },
  { key: "c", box: [59.3, 308.3, 333.3, 491], yDomain: [37.8, 130.2], ticks: applianceTicks, fmt: d3.format("d"),
    ylabel: "Energy (kWh)", ylabOff: 19, lineWidth: 1.6,
    title: ["Daily Energy consumed by appliances along one", "year for building B002"],
    caption: "(c) Energy demand of appliances", capX: [7, 362],
    days: applianceDays, lines: applianceLines },
  { key: "d", box: [452, 308, 722, 491], yDomain: [-304.5, 14.5], ticks: sensibleTicks, fmt: d3.format("d"),
    ylabel: "Energy (kWh)", ylabOff: 22.7, lineWidth: 1.2,
    title: ["Daily Total sensible cooling demand along one", "year for building B002"],
    caption: "(d) Sensible cooling demand", capX: [423, 724],
    days: sensibleDays, lines: sensibleLines },
  { key: "e", box: [59.3, 589, 333.3, 772.3], yDomain: [-7.75, 162.75], ticks: latentTicks, fmt: d3.format("d"),
    ylabel: "Energy (kWh)", ylabOff: 18.6, lineWidth: 1.2,
    title: ["Daily Total latent cooling demand along one", "year for building B002"],
    caption: "(e) Latent cooling demand", capX: [43, 327],
    days: latentDays, lines: latentLines },
  { key: "f", box: [449.7, 589, 722, 772.3], yDomain: [-12.45, 29.65], ticks: ventilationTicks, fmt: d3.format("d"),
    ylabel: "Energy (kWh)", ylabOff: 19.7, lineWidth: 1.2,
    title: ["Daily Heat gained from ventilation along one", "year for building B002"],
    caption: "(f) Sensible heat from ventilation", capX: [395, 751],
    days: ventilationDays, lines: ventilationLines },
  { key: "g", box: [55, 870, 329.3, 1053.3], yDomain: [-17.8, 263.8], ticks: radiativeTicks, fmt: d3.format("d"),
    ylabel: "Energy (kWh)", ylabOff: 18.7, lineWidth: 1.2,
    title: ["Daily Radiative heat gained along one year", "for building B002"],
    caption: "(g) Radiative heat gained", capX: [44, 316],
    days: radiativeDays, lines: radiativeLines },
  { key: "h", box: [455.3, 870, 727, 1053.3], yDomain: [23.81, 28.04], ticks: temperatureTicks, fmt: d3.format(".1f"),
    ylabel: "Temperature (°C)", ylabOff: 21, lineWidth: 1.2,
    title: ["Daily Indoor temperature along one year for", "building B002"],
    caption: "(h) Indoor temperature", capX: [453, 704],
    days: temperatureDays, lines: temperatureLines }
];

// Lines are drawn week after week through the year, so the weekday colours
// cycle and the year's final week ends up on top.
function yearOrder(lines, days) {
  const byDay = d3.group(lines, d => d[0]);
  const n = d3.max(days, d => (byDay.get(d) || []).length);
  const out = [];
  for (let i = 0; i < n; i++) {
    for (const day of days) {
      const list = byDay.get(day) || [];
      const k = i - (n - list.length);
      if (k >= 0) out.push(list[k]);
    }
  }
  return out;
}

const svg = d3.select("#fig");
svg.append("rect").attr("width", 754).attr("height", 1121).attr("fill", "#fff");

panels.forEach(p => {
  const [x0, y0, x1, y1] = p.box;
  const x = d3.scaleLinear().domain([-1.15, 24.15]).range([x0, x1]);
  const y = d3.scaleLinear().domain(p.yDomain).range([y1, y0]);
  const g = svg.append("g").attr("class", "panel-" + p.key);

  // grid
  g.append("g").selectAll("line").data(hourTicks).join("line")
    .attr("x1", d => x(d)).attr("x2", d => x(d)).attr("y1", y0).attr("y2", y1)
    .attr("stroke", "#cdcdcd").attr("stroke-width", 0.8);
  g.append("g").selectAll("line").data(p.ticks).join("line")
    .attr("x1", x0).attr("x2", x1).attr("y1", d => y(d)).attr("y2", d => y(d))
    .attr("stroke", "#cdcdcd").attr("stroke-width", 0.8);

  // data lines
  const clipId = "clip-" + p.key;
  g.append("clipPath").attr("id", clipId).append("rect")
    .attr("x", x0).attr("y", y0).attr("width", x1 - x0).attr("height", y1 - y0);
  const line = d3.line().x((d, i) => x(i)).y(d => y(d));
  g.append("g").attr("clip-path", `url(#${clipId})`)
    .selectAll("path").data(yearOrder(p.lines, p.days)).join("path")
    .attr("d", d => line(d[1]))
    .attr("fill", "none")
    .attr("stroke", d => dayColor[d[0]])
    .attr("stroke-width", p.lineWidth)
    .attr("stroke-linejoin", "round");

  // axes
  const xAxis = g.append("g").attr("transform", `translate(0,${y1})`)
    .call(d3.axisBottom(x).tickValues(hourTicks).tickSize(2.5).tickPadding(1.5));
  const yAxis = g.append("g").attr("transform", `translate(${x0},0)`)
    .call(d3.axisLeft(y).tickValues(p.ticks).tickFormat(p.fmt).tickSize(2.5).tickPadding(2));
  [xAxis, yAxis].forEach(a => {
    a.select(".domain").remove();
    a.selectAll(".tick line").attr("stroke", "#444").attr("stroke-width", 0.7);
    a.selectAll(".tick text").attr("font-family", sansFont).attr("font-size", 5.8).attr("fill", "#333");
  });

  // frame
  g.append("rect").attr("x", x0).attr("y", y0).attr("width", x1 - x0).attr("height", y1 - y0)
    .attr("fill", "none").attr("stroke", "#444").attr("stroke-width", 0.9);

  // legend
  const lx = x0 + 3, ly = y1 - 60, lw = 31, lh = 57;
  const leg = g.append("g");
  leg.append("rect").attr("x", lx).attr("y", ly).attr("width", lw).attr("height", lh).attr("rx", 1.2)
    .attr("fill", "#fff").attr("fill-opacity", 0.8).attr("stroke", "#d4d4d4").attr("stroke-width", 0.6);
  const rows = leg.selectAll("g").data(p.days).join("g")
    .attr("transform", (d, i) => `translate(${lx},${ly + 4 + i * 8.05})`);
  rows.append("line").attr("x1", 2.5).attr("x2", 13.5).attr("y1", 0).attr("y2", 0)
    .attr("stroke", d => dayColor[d]).attr("stroke-width", 1.4);
  rows.append("text").attr("x", 17.5).attr("y", 1.8).text(d => d)
    .attr("font-family", sansFont).attr("font-size", 5).attr("fill", "#333");

  // title
  const cx = (x0 + x1) / 2;
  g.append("text").attr("x", cx).attr("y", y0 - 12.5).attr("text-anchor", "middle")
    .attr("font-family", sansFont).attr("font-size", 8.2).attr("fill", "#222").text(p.title[0]);
  g.append("text").attr("x", cx).attr("y", y0 - 3).attr("text-anchor", "middle")
    .attr("font-family", sansFont).attr("font-size", 8.2).attr("fill", "#222").text(p.title[1]);

  // axis labels
  g.append("text").attr("x", cx).attr("y", y1 + 17.5).attr("text-anchor", "middle")
    .attr("font-family", sansFont).attr("font-size", 8.2).attr("fill", "#222").text("Hours");
  g.append("text")
    .attr("transform", `translate(${x0 - p.ylabOff},${(y0 + y1) / 2}) rotate(-90)`)
    .attr("text-anchor", "middle")
    .attr("font-family", sansFont).attr("font-size", 8.2).attr("fill", "#222").text(p.ylabel);

  // sub-figure caption
  g.append("text").attr("x", p.capX[0]).attr("y", y1 + 62)
    .attr("textLength", p.capX[1] - p.capX[0]).attr("lengthAdjust", "spacingAndGlyphs")
    .attr("font-family", serifFont).attr("font-size", 25).attr("fill", "#111").text(p.caption);
});
</script>
</body>
</html>
